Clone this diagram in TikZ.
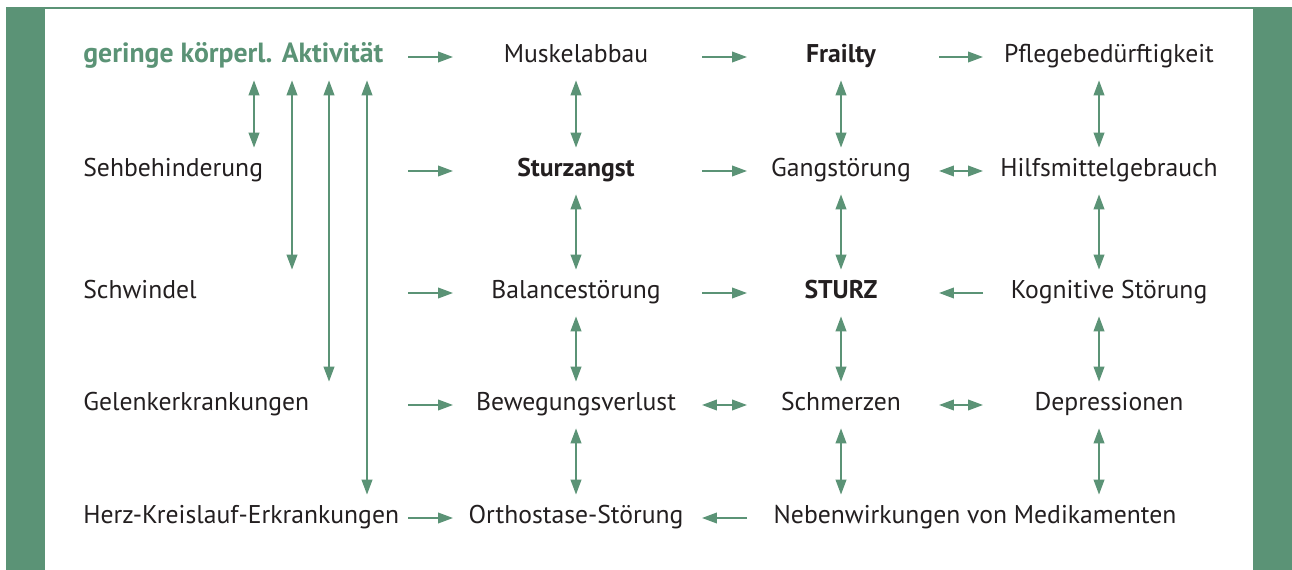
\documentclass[tikz,border=0pt]{standalone}
\usepackage{fontspec}
\setsansfont{PT Sans}
\usepackage{tikz}
\usetikzlibrary{arrows.meta, positioning, calc}
\definecolor{szGreen}{HTML}{5B9376}
\definecolor{szText}{HTML}{231F20}
\newcommand{\szfont}{\sffamily\fontsize{14.6}{18}\selectfont}
\tikzset{
  sz-lbl/.style={
    inner sep=0pt, minimum height=0.92cm, text height=0.8em, text depth=0.14em,
    text=szText, font=\szfont
  },
  sz-key/.style={sz-lbl, font=\szfont\bfseries},
  sz-flow/.style={-{Triangle[length=8.5pt,width=6pt]}, line width=1.1pt, draw=szGreen},
  sz-both/.style={{Triangle[length=8.5pt,width=6pt]}-{Triangle[length=8.5pt,width=6pt]},
    line width=1.1pt, draw=szGreen},
}

\begin{document}
\begin{tikzpicture}[x=0.02cm, y=-0.02cm, font=\szfont]
  \useasboundingbox (0,0) rectangle (1292,570);
  \fill[white] (0,0) rectangle (1292,570);
  \fill[szGreen] (6,8) rectangle (45,570);
  \fill[szGreen] (1253,8) rectangle (1292,570);
  \draw[szGreen, line width=0.6pt] (6,8) -- (1292,8);

  % arrow columns
  \coordinate (h0a) at (408,0);
  \coordinate (h0b) at (453,0);
  \coordinate (h1a) at (702,0);
  \coordinate (h1b) at (747,0);
  \coordinate (h2a) at (939,0);
  \coordinate (h2b) at (983,0);
  \coordinate (g3) at (1099,0);
  \coordinate (l1) at (254,0);
  \coordinate (l2) at (292,0);
  \coordinate (l3) at (329,0);
  \coordinate (l4) at (367,0);

  \node[sz-key, anchor=west, text=szGreen, font=\sffamily\fontsize{15.8}{18}\selectfont\bfseries] (akt) at (83,57) {geringe körperl. Aktivität};
  \node[sz-lbl, anchor=west] (sb) at (83,171) {Sehbehinderung};
  \node[sz-lbl, anchor=west] (schw) at (83,293) {Schwindel};
  \node[sz-lbl, anchor=west] (gel) at (83,405) {Gelenkerkrankungen};
  \node[sz-lbl, anchor=west] (herz) at (83,518) {Herz-Kreislauf-Erkrankungen};

  \node[sz-lbl] (mu) at (576,57) {Muskelabbau};
  \node[sz-key] (sa) at (576,171) {Sturzangst};
  \node[sz-lbl] (bal) at (576,293) {Balancestörung};
  \node[sz-lbl] (bew) at (576,405) {Bewegungsverlust};
  \node[sz-lbl] (orth) at (576,518) {Orthostase-Störung};

  \node[sz-key] (fr) at (841,57) {Frailty};
  \node[sz-lbl] (ga) at (841,171) {Gangstörung};
  \node[sz-key] (st) at (841,293) {STURZ};
  \node[sz-lbl] (sch) at (841,405) {Schmerzen};
  \node[sz-lbl] (neb) at (975,518) {Nebenwirkungen von Medikamenten};

  \node[sz-lbl] (pf) at (1109,57) {Pflegebedürftigkeit};
  \node[sz-lbl] (hg) at (1109,171) {Hilfsmittelgebrauch};
  \node[sz-lbl] (kog) at (1109,293) {Kognitive Störung};
  \node[sz-lbl] (dep) at (1109,405) {Depressionen};

  % horizontal
  \draw[sz-flow] (akt -| h0a) -- (mu -| h0b);
  \draw[sz-flow] (mu -| h1a) -- (fr -| h1b);
  \draw[sz-flow] (fr -| h2a) -- (pf -| h2b);
  \draw[sz-flow] (sb -| h0a) -- (sa -| h0b);
  \draw[sz-flow] (sa -| h1a) -- (ga -| h1b);
  \draw[sz-both] (ga -| h2a) -- (hg -| h2b);
  \draw[sz-flow] (schw -| h0a) -- (bal -| h0b);
  \draw[sz-flow] (bal -| h1a) -- (st -| h1b);
  \draw[sz-flow] (kog -| h2b) -- (st -| h2a);
  \draw[sz-flow] (gel -| h0a) -- (bew -| h0b);
  \draw[sz-both] (bew -| h1a) -- (sch -| h1b);
  \draw[sz-both] (sch -| h2a) -- (dep -| h2b);
  \draw[sz-flow] (herz -| h0a) -- (orth -| h0b);
  \draw[sz-flow] (neb -| h1b) -- (orth -| h1a);

  % vertical
  \draw[sz-both] (mu.south) -- (sa.north);
  \draw[sz-both] (sa.south) -- (bal.north);
  \draw[sz-both] (bal.south) -- (bew.north);
  \draw[sz-both] (bew.south) -- (orth.north);
  \draw[sz-both] (fr.south) -- (ga.north);
  \draw[sz-both] (ga.south) -- (st.north);
  \draw[sz-both] (st.south) -- (sch.north);
  \draw[sz-both] (sch.south) -- (neb.north -| sch);
  \draw[sz-both] (pf.south -| g3) -- (hg.north -| g3);
  \draw[sz-both] (hg.south -| g3) -- (kog.north -| g3);
  \draw[sz-both] (kog.south -| g3) -- (dep.north -| g3);
  \draw[sz-both] (dep.south -| g3) -- (neb.north -| g3);

  % from the activity node
  \draw[sz-both] (akt.south -| l1) -- (sb.north -| l1);
  \draw[sz-both] (akt.south -| l2) -- (schw.north -| l2);
  \draw[sz-both] (akt.south -| l3) -- (gel.north -| l3);
  \draw[sz-both] (akt.south -| l4) -- (herz.north -| l4);
\end{tikzpicture}
\end{document}
